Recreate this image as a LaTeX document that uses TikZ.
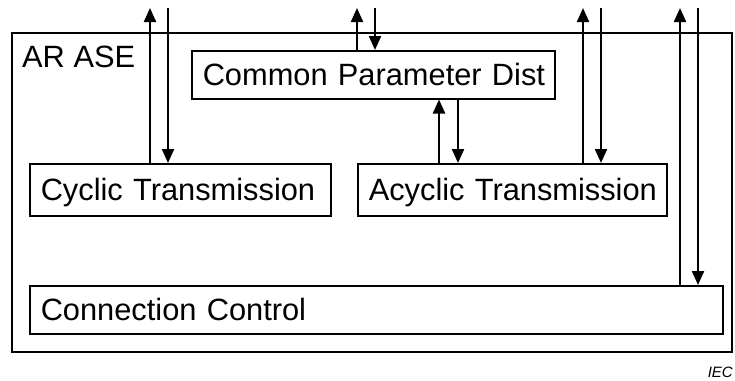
\documentclass[tikz,border=0pt]{standalone}
\usepackage{fontspec}
\setmainfont{Liberation Sans}
\usetikzlibrary{arrows.meta}

\tikzset{
	unitbox/.style={draw, line width=1.5pt, anchor=north west, inner xsep=11pt, inner ysep=0pt,
		align=left, text height=22pt, text depth=0pt, font=\fontsize{30.8}{36}\selectfont},
	flow/.style={line width=2.2pt, -{Triangle[length=14pt,width=12pt]}}
}

\begin{document}
\begin{tikzpicture}[x=1pt,y=-1pt]
			\useasboundingbox (0,0) rectangle (735,380);

			\draw (11,32) node (ase) [draw, line width=1.5pt, anchor=north west, inner sep=0pt, minimum width=720pt, minimum height=319pt] {};
			\draw (22,67) node (asename) [anchor=base west, inner sep=0pt, font=\fontsize{30.8}{36}\selectfont] {AR ASE};

			\draw (191,50) node (cpd) [unitbox, text width=341pt, minimum height=48pt] {\mbox{Common Parameter Dist}};
			\draw (29,163) node (cyc) [unitbox, text width=279pt, minimum height=52pt] {\mbox{Cyclic Transmission}};
			\draw (357,163) node (acyc) [unitbox, text width=287pt, minimum height=52pt] {\mbox{Acyclic Transmission}};
			\draw (29,285) node (conn) [unitbox, text width=671pt, minimum height=48pt] {\mbox{Connection Control}};

			\coordinate (cycup) at (150,8);
			\coordinate (cycdn) at (168,8);
			\coordinate (cpdup) at (357,8);
			\coordinate (cpddn) at (375,8);
			\coordinate (midup) at (439,0);
			\coordinate (middn) at (458,0);
			\coordinate (acycup) at (583,8);
			\coordinate (acycdn) at (601,8);
			\coordinate (connup) at (680,8);
			\coordinate (conndn) at (698,8);

			\draw[flow] (cyc.north -| cycup) -- (cycup);
			\draw[flow] (cycdn) -- (cyc.north -| cycdn);
			\draw[flow] (cpd.north -| cpdup) -- (cpdup);
			\draw[flow] (cpddn) -- (cpd.north -| cpddn);
			\draw[flow] (acyc.north -| midup) -- (cpd.south -| midup);
			\draw[flow] (cpd.south -| middn) -- (acyc.north -| middn);
			\draw[flow] (acyc.north -| acycup) -- (acycup);
			\draw[flow] (acycdn) -- (acyc.north -| acycdn);
			\draw[flow] (conn.north -| connup) -- (connup);
			\draw[flow] (conndn) -- (conn.north -| conndn);

			\draw (733,377) node (iec) [anchor=base east, inner sep=0pt, font=\fontsize{15}{18}\selectfont\itshape] {IEC};
\end{tikzpicture}
\end{document}
